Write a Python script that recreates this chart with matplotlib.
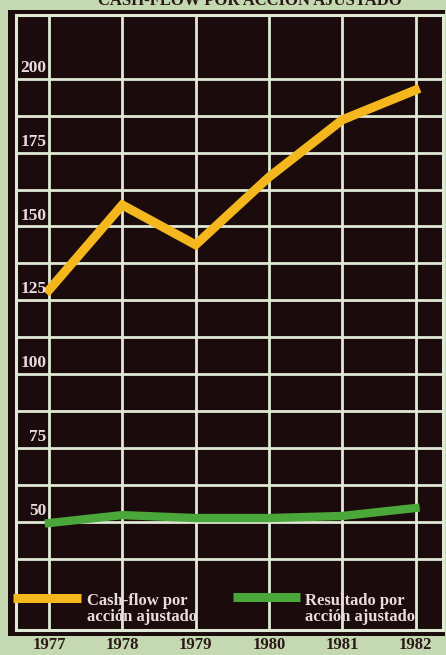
import matplotlib
matplotlib.use("Agg")
import matplotlib.pyplot as plt
from matplotlib.patches import Rectangle
import numpy as np

years = [1977, 1978, 1979, 1980, 1981, 1982]
cash_flow = [124.8, 153.6, 140.1, 163.0, 182.4, 192.5]
resultado = [45.9, 48.6, 47.6, 47.6, 48.3, 51.0]
y_labels = [200, 175, 150, 125, 100, 75, 50]
title = "CASH-FLOW POR ACCIÓN AJUSTADO"
legend_labels = ["Cash-flow por\nacción ajustado", "Resultado por\nacción ajustado"]

BG = "#c4d8b2"
DARK = "#1b0b0d"
GRID = "#dfe9d3"
YELLOW = "#f4b81e"
GREEN = "#4aa83a"
LIGHTTXT = "#eadcdc"

W, H = 446, 655
fig = plt.figure(figsize=(W / 100, H / 100), dpi=100, facecolor=BG)

# dark panel
fig.patches.append(Rectangle((8 / W, 1 - 636 / H), 437 / W, 626 / H,
                             transform=fig.transFigure, facecolor=DARK,
                             edgecolor="none", zorder=-5))

ax = fig.add_axes([16 / W, 1 - 630 / H, 427 / W, 615 / H])
ax.set_zorder(2)
ax.set_facecolor(DARK)
ax.set_xlim(1976.55, 1982.375)
ax.set_ylim(9.7, 217.9)

# grid
for x in years:
    ax.axvline(x, color=GRID, lw=2.0, zorder=1)
for k in range(14):
    ax.axhline(196.3 - 12.5 * k, color=GRID, lw=2.0, zorder=1)

for s in ax.spines.values():
    s.set_color(GRID)
    s.set_linewidth(2.2)

ax.plot(years, cash_flow, color=YELLOW, lw=6.5, solid_joinstyle="miter",
        solid_capstyle="projecting", zorder=3)
ax.plot(years, resultado, color=GREEN, lw=6.0, solid_capstyle="projecting", zorder=3)

# y labels inside first column
for v in y_labels:
    ax.text(1976.965, v, str(v), ha="right", va="center", fontsize=12.5,
            family="Liberation Serif", fontweight="bold", color=LIGHTTXT, zorder=4)

ax.set_yticks([])
ax.set_xticks(years)
ax.set_xticklabels([str(y) for y in years], family="Liberation Serif",
                   fontweight="bold", fontsize=12, color="#2a1816")
ax.tick_params(axis="x", length=0, pad=5)

# legend (manual)
def px(xp):
    return (xp - 16) / 427

def py(yp):
    return (630 - yp) / 615

ax.plot([px(13), px(81)], [py(598), py(598)], color=YELLOW, lw=6.5,
        transform=ax.transAxes, clip_on=False, zorder=5, solid_capstyle="butt")
ax.text(px(87), py(609), legend_labels[0], transform=ax.transAxes,
        ha="left", va="center", fontsize=12, family="Liberation Serif",
        fontweight="bold", color=LIGHTTXT, linespacing=1.0, zorder=5)
ax.plot([px(233), px(300)], [py(597), py(597)], color=GREEN, lw=6.5,
        transform=ax.transAxes, clip_on=False, zorder=5, solid_capstyle="butt")
ax.text(px(305), py(609), legend_labels[1], transform=ax.transAxes,
        ha="left", va="center", fontsize=12, family="Liberation Serif",
        fontweight="bold", color=LIGHTTXT, linespacing=1.0, zorder=5)

# title (cut at top as in scan)
fig.text(250 / W, 1 - 5 / H, title, ha="center", va="baseline",
         fontsize=12, family="Liberation Serif", fontweight="bold",
         color="#2a1816")

fig.savefig("out.png", dpi=100, facecolor=BG)
